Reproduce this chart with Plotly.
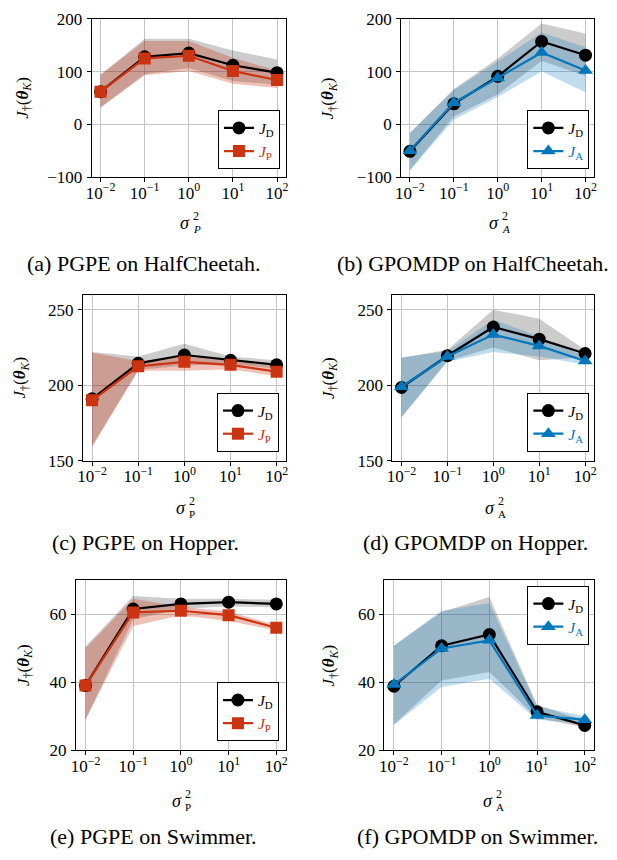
import plotly.graph_objects as go

W, H = 617, 860

# ---------------- data ----------------
sigma_sq = [1e-2, 1e-1, 1e0, 1e1, 1e2]
x_tick_text = ["10<sup>−2</sup>", "10<sup>−1</sup>", "10<sup>0</sup>", "10<sup>1</sup>", "10<sup>2</sup>"]

# (a) PGPE on HalfCheetah
hc_pgpe_jd = [62, 128, 135, 112, 98]
hc_pgpe_jd_lo = [32, 95, 107, 82, 75]
hc_pgpe_jd_hi = [94, 162, 162, 140, 123]
hc_pgpe_jp = [62, 125, 130, 101, 84]
hc_pgpe_jp_lo = [32, 93, 101, 77, 69]
hc_pgpe_jp_hi = [94, 158, 158, 126, 102]

# (b) GPOMDP on HalfCheetah
hc_gpomdp_jd = [-51, 39, 91, 157, 131]
hc_gpomdp_jd_lo = [-86, 15, 57, 120, 92]
hc_gpomdp_jd_hi = [-16, 67, 125, 191, 172]
hc_gpomdp_ja = [-50, 41, 88, 136, 102]
hc_gpomdp_ja_lo = [-88, 9, 52, 100, 61]
hc_gpomdp_ja_hi = [-17, 65, 119, 174, 146]

# (c) PGPE on Hopper
hop_pgpe_jd = [191, 214.5, 220, 216.5, 213.5]
hop_pgpe_jd_lo = [160, 210, 213, 214, 211]
hop_pgpe_jd_hi = [222, 219, 227.5, 219, 216.5]
hop_pgpe_jp = [190, 212.5, 215.5, 213.5, 209]
hop_pgpe_jp_lo = [159, 209.5, 209.5, 210.5, 206]
hop_pgpe_jp_hi = [221.5, 216, 219, 216.5, 212]

# (d) GPOMDP on Hopper
hop_gpomdp_jd = [198.5, 219.5, 238.5, 230.5, 221]
hop_gpomdp_jd_lo = [179, 216, 225, 216.5, 218.5]
hop_gpomdp_jd_hi = [218, 223.5, 250, 244, 223.5]
hop_gpomdp_ja = [199, 219, 233.5, 226, 216]
hop_gpomdp_ja_lo = [178.5, 215.5, 222, 219, 213.5]
hop_gpomdp_ja_hi = [218.5, 222.5, 243.5, 232, 219]

# (e) PGPE on Swimmer
sw_pgpe_jd = [39, 61.5, 63, 63.5, 63]
sw_pgpe_jd_lo = [29, 58.5, 61.5, 62.3, 62]
sw_pgpe_jd_hi = [50.5, 65.3, 64.5, 64.5, 64.2]
sw_pgpe_jp = [39, 60.5, 61, 59.7, 56]
sw_pgpe_jp_lo = [29, 56.5, 59.7, 58, 55.2]
sw_pgpe_jp_hi = [50, 64.5, 62.2, 60.8, 56.8]

# (f) GPOMDP on Swimmer
sw_gpomdp_jd = [38.8, 50.7, 54, 31.3, 27.3]
sw_gpomdp_jd_lo = [27.6, 40.5, 43, 29.5, 26.7]
sw_gpomdp_jd_hi = [50.7, 60.6, 65, 33.4, 28.7]
sw_gpomdp_ja = [39.3, 49.9, 52.3, 30.2, 29.0]
sw_gpomdp_ja_lo = [27.4, 38.6, 41, 29, 27.8]
sw_gpomdp_ja_hi = [50.8, 61, 63.3, 32.9, 30]

captions = ["(a) PGPE on HalfCheetah.", "(b) GPOMDP on HalfCheetah.",
            "(c) PGPE on Hopper.", "(d) GPOMDP on Hopper.",
            "(e) PGPE on Swimmer.", "(f) GPOMDP on Swimmer."]

y_ticks_hc = [-100, 0, 100, 200]
y_ticks_hop = [150, 200, 250]
y_ticks_sw = [20, 40, 60]

# ---------------- style ----------------
RED = "#CC3311"
BLUE = "#0077BB"
BLACK = "#000000"
SERIF = "Liberation Serif"

panels = [
    dict(jd=(hc_pgpe_jd, hc_pgpe_jd_lo, hc_pgpe_jd_hi), jo=(hc_pgpe_jp, hc_pgpe_jp_lo, hc_pgpe_jp_hi),
         kind="P", ital=True, yr=[-100, 200], yt=y_ticks_hc, px=(87, 284), py=(10, 172),
         leg=dict(x=278, y=164, xa="right", ya="bottom"), ylab=(18, 91), xlab=(185, 218), cap=(140, 260)),
    dict(jd=(hc_gpomdp_jd, hc_gpomdp_jd_lo, hc_gpomdp_jd_hi), jo=(hc_gpomdp_ja, hc_gpomdp_ja_lo, hc_gpomdp_ja_hi),
         kind="A", ital=True, yr=[-100, 200], yt=y_ticks_hc, px=(401, 597), py=(10, 172),
         leg=dict(x=592, y=164, xa="right", ya="bottom"), ylab=(328, 91), xlab=(498, 218), cap=(474, 260)),
    dict(jd=(hop_pgpe_jd, hop_pgpe_jd_lo, hop_pgpe_jd_hi), jo=(hop_pgpe_jp, hop_pgpe_jp_lo, hop_pgpe_jp_hi),
         kind="P", ital=False, yr=[150, 260], yt=y_ticks_hop, px=(78, 284), py=(292, 462),
         leg=dict(x=277, y=453, xa="right", ya="bottom"), ylab=(15, 377), xlab=(181, 509), cap=(142, 546)),
    dict(jd=(hop_gpomdp_jd, hop_gpomdp_jd_lo, hop_gpomdp_jd_hi), jo=(hop_gpomdp_ja, hop_gpomdp_ja_lo, hop_gpomdp_ja_hi),
         kind="A", ital=False, yr=[150, 260], yt=y_ticks_hop, px=(392, 597), py=(292, 462),
         leg=dict(x=592, y=453, xa="right", ya="bottom"), ylab=(328, 377), xlab=(494, 509), cap=(476, 546)),
    dict(jd=(sw_pgpe_jd, sw_pgpe_jd_lo, sw_pgpe_jd_hi), jo=(sw_pgpe_jp, sw_pgpe_jp_lo, sw_pgpe_jp_hi),
         kind="P", ital=False, yr=[20, 70], yt=y_ticks_sw, px=(71, 284), py=(584, 758),
         leg=dict(x=277, y=749, xa="right", ya="bottom"), ylab=(19, 671), xlab=(177, 809), cap=(150, 846)),
    dict(jd=(sw_gpomdp_jd, sw_gpomdp_jd_lo, sw_gpomdp_jd_hi), jo=(sw_gpomdp_ja, sw_gpomdp_ja_lo, sw_gpomdp_ja_hi),
         kind="A", ital=False, yr=[20, 70], yt=y_ticks_sw, px=(384, 597), py=(584, 758),
         leg=dict(x=592, y=590, xa="right", ya="top"), ylab=(329, 671), xlab=(492, 809), cap=(478, 846)),
]

fig = go.Figure()
layout = dict(width=W, height=H, margin=dict(l=0, r=0, t=0, b=0),
              paper_bgcolor="white", plot_bgcolor="white",
              font=dict(family=SERIF, size=16, color="black"), annotations=[])


def px2x(v):
    return v / W


def py2y(v):
    return 1 - v / H


def note(text, x, y, size, xa="center", ya="middle", angle=0, color="black"):
    return dict(text=text, x=px2x(x), y=py2y(y), xref="paper", yref="paper", xanchor=xa, yanchor=ya,
                textangle=angle, showarrow=False, font=dict(family=SERIF, size=size, color=color))


for i, p in enumerate(panels):
    s = "" if i == 0 else str(i + 1)
    xr, yr = "x" + s, "y" + s
    legname = "legend" + s
    ocol = RED if p["kind"] == "P" else BLUE
    osym = "square" if p["kind"] == "P" else "triangle-up"
    orgba = "rgba(204,51,17,0.30)" if p["kind"] == "P" else "rgba(0,119,187,0.25)"
    xs = sigma_sq + sigma_sq[::-1]
    d, dlo, dhi = p["jd"]
    o, olo, ohi = p["jo"]
    fig.add_trace(go.Scatter(x=xs, y=dhi + dlo[::-1], fill="toself", fillcolor="rgba(0,0,0,0.20)",
                             line=dict(width=0), mode="lines", showlegend=False, hoverinfo="skip",
                             xaxis=xr, yaxis=yr))
    fig.add_trace(go.Scatter(x=xs, y=ohi + olo[::-1], fill="toself", fillcolor=orgba,
                             line=dict(width=0), mode="lines", showlegend=False, hoverinfo="skip",
                             xaxis=xr, yaxis=yr))
    fig.add_trace(go.Scatter(x=sigma_sq, y=d, mode="lines+markers", name="<i>J</i><sub>D</sub>",
                             line=dict(color=BLACK, width=2.2),
                             marker=dict(symbol="circle", size=13, color=BLACK),
                             xaxis=xr, yaxis=yr, legend=legname))
    oname = "<span style='color:%s'><i>J</i><sub>%s</sub></span>" % (ocol, p["kind"])
    fig.add_trace(go.Scatter(x=sigma_sq, y=o, mode="lines+markers", name=oname,
                             line=dict(color=ocol, width=2.2),
                             marker=dict(symbol=osym, size=13 if osym != "square" else 12, color=ocol),
                             xaxis=xr, yaxis=yr, legend=legname))
    common = dict(showline=True, linecolor="black", linewidth=1, mirror=True,
                  ticks="outside", ticklen=4, tickcolor="black", tickwidth=1,
                  showgrid=True, gridcolor="#c4c4c4", gridwidth=1, zeroline=False,
                  tickfont=dict(family=SERIF, size=17, color="black"))
    layout["xaxis" + s] = dict(domain=[px2x(p["px"][0]), px2x(p["px"][1])], anchor=yr, type="log",
                               range=[-2.2, 2.2], tickmode="array", tickvals=sigma_sq,
                               ticktext=x_tick_text, ticklabelstandoff=-4, **common)
    layout["yaxis" + s] = dict(domain=[py2y(p["py"][1]), py2y(p["py"][0])], anchor=xr,
                               range=p["yr"], tickmode="array", tickvals=p["yt"],
                               ticklabelstandoff=1, **common)
    lg = p["leg"]
    layout[legname] = dict(x=px2x(lg["x"]), y=py2y(lg["y"]), xanchor=lg["xa"], yanchor=lg["ya"],
                           xref="paper", yref="paper", bgcolor="white", bordercolor="black",
                           borderwidth=1, font=dict(family=SERIF, size=15.5, color="black"),
                           itemwidth=30, tracegroupgap=0)
    # y label
    layout["annotations"].append(note("<i>J</i><sub>†</sub>(<b><i>θ</i></b><sub><i>K</i></sub>)",
                                      p["ylab"][0], p["ylab"][1], 17, angle=-90))
    # x label: sigma with stacked scripts
    cx, cy = p["xlab"]
    layout["annotations"].append(note("<i>σ</i>", cx - 3, cy + 1, 18))
    layout["annotations"].append(note("2", cx + 3, cy - 6, 12, xa="left"))
    sub = "<i>%s</i>" % p["kind"] if p["ital"] else p["kind"]
    layout["annotations"].append(note(sub, cx + 3, cy + 7, 11, xa="left"))
    # caption
    layout["annotations"].append(note(captions[i], p["cap"][0], p["cap"][1], 22))

fig.update_layout(**layout)
fig.write_html("out.html", config={"displayModeBar": False},
               post_script="document.body.style.margin='0px';document.body.style.overflow='hidden';")
